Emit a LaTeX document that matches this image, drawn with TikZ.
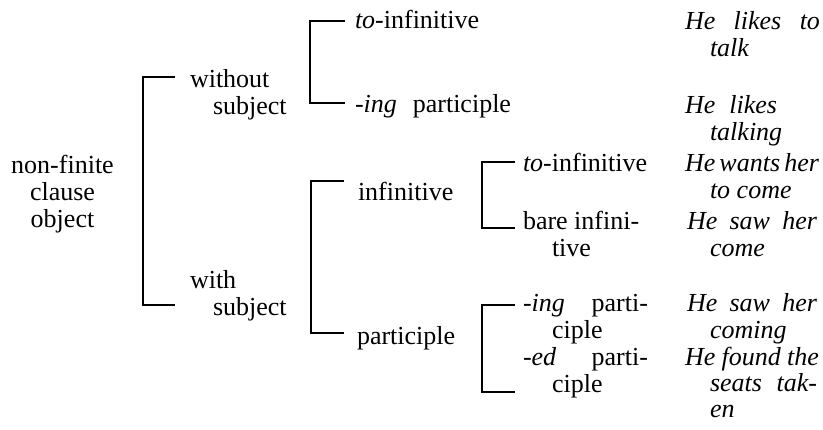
\documentclass[tikz,border=0pt]{standalone}
\usepackage{fontspec}
\setmainfont{Liberation Serif}
\newcommand\twol[3][0pt]{\vtop{\baselineskip=27pt\hbox{#2}\hbox{\hspace*{#1}#3}}}
\newcommand\cl[1]{\hbox to 110pt{\hfil#1\hfil}}
\begin{document}
\begin{tikzpicture}[x=1pt,y=-1pt,
  lbl/.style={anchor=base west,inner sep=0pt,outer sep=0pt,font=\fontsize{26}{27}\selectfont},
  ex/.style={lbl,font=\fontsize{26}{27}\selectfont\itshape},
  br/.style={line width=1.3pt,line cap=butt,line join=miter}]
\useasboundingbox (0,0) rectangle (823,429);
% root
\node[lbl] (root) at (7.5,173) {\vtop{\baselineskip=27pt\cl{non-finite}\cl{clause}\cl{object}}};
% level 1
\node[lbl] (wos) at (190,87) {\twol[23pt]{without}{subject}};
\node[lbl] (ws) at (190,288) {\twol[23pt]{with}{subject}};
% level 2
\node[lbl] (toinf) at (355,28) {\textit{to}-infinitive};
\node[lbl] (ingp) at (355,112) {\hbox to 156pt{\textit{-ing}\hfil participle}};
\node[lbl] (inf) at (358,200) {infinitive};
\node[lbl] (part) at (357,344) {participle};
% level 3
\node[lbl] (toinf2) at (523,171) {\textit{to}-infinitive};
\node[lbl] (bare) at (523,229) {\twol[29pt]{bare infini-}{tive}};
\node[lbl] (ingp2) at (523,311) {\twol[29pt]{\hbox to 125pt{\textit{-ing}\hfil parti-}}{ciple}};
\node[lbl] (edp) at (523,365) {\twol[29pt]{\hbox to 125pt{\textit{-ed}\hfil parti-}}{ciple}};
% examples
\node[ex] (e1) at (685,29) {\twol[25pt]{\hbox to 135pt{He\hfil likes\hfil to}}{talk}};
\node[ex] (e2) at (685,113) {\twol[25pt]{\hbox to 92pt{He\hfil likes}}{talking}};
\node[ex] (e3) at (685,171) {\twol[25pt]{\hbox to 134pt{He\hfil wants\hfil her}}{to come}};
\node[ex] (e4) at (687,229) {\twol[23pt]{\hbox to 130pt{He\hfil saw\hfil her}}{come}};
\node[ex] (e5) at (687,311) {\twol[23pt]{\hbox to 130pt{He\hfil saw\hfil her}}{coming}};
\node[ex] (e6) at (685,365) {\vtop{\baselineskip=26pt\hbox to 134pt{He\hfil found\hfil the}\hbox{\hspace*{25pt}\hbox to 107pt{seats\hfil tak-}}\hbox{\hspace*{25pt}en}}};
% bracket arm ends
\coordinate (b1t) at (175,77);  \coordinate (b1b) at (175,305);
\coordinate (b2t) at (345,21);  \coordinate (b2b) at (345,103);
\coordinate (b3t) at (344,181); \coordinate (b3b) at (344,333);
\coordinate (b4t) at (515,162); \coordinate (b4b) at (515,228);
\coordinate (b5t) at (515,305); \coordinate (b5b) at (515,392);
\draw[br] (b1t) -- ++(-32,0) |- (b1b);
\draw[br] (b2t) -- ++(-35,0) |- (b2b);
\draw[br] (b3t) -- ++(-33,0) |- (b3b);
\draw[br] (b4t) -- ++(-33,0) |- (b4b);
\draw[br] (b5t) -- ++(-33,0) |- (b5b);
\end{tikzpicture}
\end{document}
